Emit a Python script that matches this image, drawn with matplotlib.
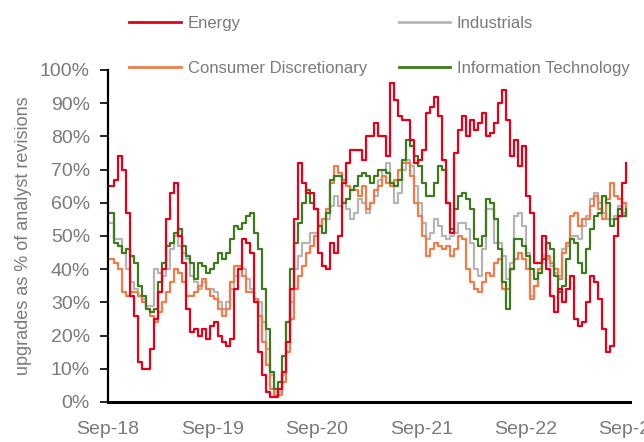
import numpy as np
import pandas as pd
import matplotlib
matplotlib.use("Agg")
import matplotlib.pyplot as plt
from matplotlib.lines import Line2D

# bi-weekly observations starting Sep-2018
start_date = "2018-09-07"

energy = [65, 67, 74, 70, 57, 32, 26, 12, 10, 10,
          16, 25, 33, 40, 55, 63, 66, 50, 42, 28,
          21, 22, 20, 22, 19, 23, 24, 20, 18, 17,
          19, 34, 40, 49, 48, 45, 30, 15, 8, 3,
          1.5, 1.5, 4, 9, 18, 34, 55, 72, 66, 63,
          63, 58, 45, 41, 40, 48, 45, 50, 66, 72,
          76, 76, 76, 73, 80, 80, 84, 80, 80, 74,
          96, 91, 86, 85, 85, 79, 72, 73, 76, 87,
          89, 92, 86, 73, 60, 51, 75, 82, 86, 80,
          85, 82, 84, 87, 80, 81, 84, 90, 94, 85,
          74, 79, 71, 77, 62, 57, 42, 42, 50, 40,
          32, 27, 34, 30, 34, 38, 25, 23, 24, 30,
          38, 36, 31, 22, 15, 17, 50, 56, 66, 72]

industrials = [54, 49, 49, 45, 40, 36, 34, 32, 31, 29,
               29, 40, 39, 38, 40, 46, 50, 47, 45, 43,
               38, 36, 34, 36, 34, 34, 33, 30, 28, 30,
               34, 38, 40, 40, 37, 34, 31, 30, 24, 16,
               8, 3, 3, 8, 24, 30, 40, 44, 48, 48,
               51, 51, 53, 55, 55, 59, 62, 59, 60, 58,
               55, 57, 61, 60, 57, 60, 62, 67, 70, 72,
               66, 60, 63, 70, 73, 71, 65, 60, 54, 49,
               51, 55, 53, 50, 49, 50, 51, 54, 54, 52,
               48, 40, 38, 46, 58, 58, 48, 48, 44, 37,
               42, 56, 57, 53, 45, 32, 35, 40, 44, 43,
               41, 39, 38, 46, 47, 50, 50, 49, 53, 56,
               61, 63, 60, 57, 55, 55, 56, 59, 57, 56]

consumer_disc = [43, 42, 40, 33, 32, 33, 33, 32, 30, 28,
                 26, 24, 27, 30, 33, 36, 40, 39, 36, 32,
                 32, 33, 35, 37, 34, 32, 31, 28, 26, 28,
                 36, 41, 41, 38, 33, 33, 31, 26, 18, 11,
                 4, 2, 2, 6, 15, 25, 34, 38, 41, 45,
                 47, 50, 53, 55, 58, 66, 71, 69, 67, 65,
                 64, 64, 62, 65, 58, 60, 64, 65, 68, 66,
                 65, 67, 70, 72, 72, 68, 60, 56, 50, 44,
                 46, 48, 47, 46, 47, 44, 46, 50, 49, 40,
                 36, 34, 33, 36, 39, 38, 42, 43, 34, 34,
                 40, 43, 45, 43, 40, 31, 35, 40, 43, 44,
                 42, 40, 37, 45, 48, 56, 57, 53, 55, 55,
                 59, 62, 58, 55, 61, 66, 62, 61, 60, 56]

info_tech = [57, 48, 47, 45, 46, 44, 42, 35, 32, 28,
             27, 28, 36, 42, 47, 48, 51, 52, 47, 44,
             42, 37, 42, 41, 39, 40, 42, 45, 43, 45,
             49, 53, 52, 54, 56, 57, 51, 46, 34, 22,
             9, 4, 6, 14, 24, 40, 48, 54, 60, 64,
             60, 58, 53, 51, 57, 67, 68, 68, 60, 61,
             64, 65, 68, 69, 68, 66, 68, 70, 70, 69,
             66, 65, 67, 73, 79, 77, 74, 71, 66, 62,
             62, 66, 71, 70, 60, 52, 58, 62, 63, 61,
             58, 49, 47, 50, 61, 60, 55, 46, 36, 28,
             40, 49, 49, 47, 44, 40, 37, 39, 43, 48,
             46, 38, 33, 35, 43, 49, 48, 42, 39, 46,
             52, 56, 57, 62, 60, 53, 55, 58, 56, 58]

x_tick_labels = ["Sep-18", "Sep-19", "Sep-20", "Sep-21", "Sep-22", "Sep-23"]
y_ticks = list(range(0, 101, 10))

dates = pd.date_range(start_date, periods=len(energy), freq="14D")

plt.rcParams["font.family"] = ["Liberation Sans", "DejaVu Sans"]
text_grey = "#7a7a7a"

fig = plt.figure(figsize=(6.44, 4.42), dpi=100)
ax = fig.add_axes([108 / 644, 40 / 442, (630 - 108) / 644, (402 - 70) / 442])

series = [
    ("Industrials", industrials, "#b5b5b5"),
    ("Consumer Discretionary", consumer_disc, "#ef7d4c"),
    ("Information Technology", info_tech, "#3f7a1e"),
    ("Energy", energy, "#e2001a"),
]
colors = {}
for name, vals, col in series:
    ax.plot(dates, vals, color=col, lw=1.6, drawstyle="steps-post", label=name)
    colors[name] = col

ax.set_ylim(0, 100)
ax.set_xlim(pd.Timestamp("2018-09-01"), pd.Timestamp("2023-09-01"))
ax.set_yticks(y_ticks)
ax.set_yticklabels([f"{v}%" for v in y_ticks])
tick_dates = [pd.Timestamp(f"20{lab[-2:]}-09-01") for lab in x_tick_labels]
ax.set_xticks(tick_dates)
ax.set_xticklabels(x_tick_labels)

for s in ["top", "right"]:
    ax.spines[s].set_visible(False)
ax.spines["left"].set_linewidth(1.6)
ax.spines["bottom"].set_linewidth(2.2)
ax.tick_params(axis="y", direction="out", length=6, width=1.2, colors="black",
               labelcolor=text_grey, labelsize=14, pad=7)
ax.tick_params(axis="x", length=0, labelcolor=text_grey, labelsize=14, pad=14)
ax.set_ylabel("upgrades as % of analyst revisions", color=text_grey, fontsize=13, labelpad=6)

order = ["Energy", "Consumer Discretionary", "Industrials", "Information Technology"]
leg_handles = [Line2D([0], [0], color=colors[n], lw=2) for n in order]
fig.legend(leg_handles, order, loc="upper left", bbox_to_anchor=(121 / 644, 1 - 8 / 442),
           ncol=2, frameon=False, fontsize=12, handlelength=3.1, handletextpad=0.4,
           columnspacing=1.9, labelspacing=1.75, borderpad=0, labelcolor=text_grey)

fig.savefig("out.png", dpi=100)
